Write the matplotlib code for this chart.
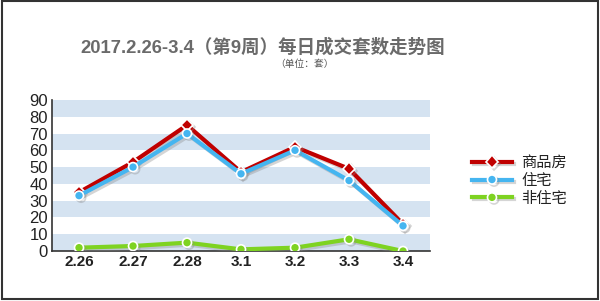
import matplotlib
matplotlib.use('Agg')
import matplotlib.pyplot as plt
import matplotlib.patheffects as pe
from matplotlib.patches import Rectangle

plt.rcParams['font.family'] = ['Liberation Sans', 'Noto Sans CJK SC', 'DejaVu Sans']

# data
days = ['2.26', '2.27', '2.28', '3.1', '3.2', '3.3', '3.4']
commercial = [35, 53, 75, 47, 62, 49, 16]   # 商品房
residential = [33, 50, 70, 46, 60, 42, 15]  # 住宅
non_residential = [2, 3, 5, 1, 2, 7, 0]     # 非住宅
y_ticks = [0, 10, 20, 30, 40, 50, 60, 70, 80, 90]

fig = plt.figure(figsize=(6.0, 3.01), dpi=100)
ax = fig.add_axes([0.0867, 0.166, 0.63, 0.502])

# alternating horizontal bands
for lo in y_ticks[:-1:2]:
    ax.axhspan(lo, lo + 10, color='#d5e3f1', zorder=0, lw=0)

x = list(range(len(days)))
shadow = [pe.SimpleLineShadow(offset=(1.5, -1.5), shadow_color='#888888', alpha=0.35), pe.Normal()]

series = [
    (commercial, '商品房', '#c00000', 'D', 6.5),
    (residential, '住宅', '#45b5f0', 'o', 6.5),
    (non_residential, '非住宅', '#7ed321', 'o', 6.5),
]
for vals, name, color, marker, ms in series:
    ax.plot(x, vals, color=color, lw=3, marker=marker, markersize=ms,
            markeredgecolor='white', markeredgewidth=1.2, label=name,
            path_effects=shadow, zorder=3)

ax.set_xlim(-0.5, 6.5)
ax.set_ylim(0, 90)
ax.set_yticks(y_ticks)
ax.set_yticklabels([str(v) for v in y_ticks], fontsize=12, color='#222222')
ax.set_xticks(x)
ax.set_xticklabels(days, fontsize=11, fontweight='bold', color='#222222')
ax.tick_params(axis='both', length=0, pad=3)
for s in ['top', 'right']:
    ax.spines[s].set_visible(False)
for s in ['left', 'bottom']:
    ax.spines[s].set_color('#333333')
    ax.spines[s].set_linewidth(1.2)

leg = ax.legend(loc='upper left', bbox_to_anchor=(1.075, 0.72), frameon=False,
                fontsize=11, handlelength=2.6, labelspacing=0.25, handletextpad=0.6)
for t in leg.get_texts():
    t.set_color('#222222')

fig.text(0.437, 0.842, '2017.2.26-3.4（第9周）每日成交套数走势图', ha='center', va='center',
         fontsize=13.3, fontweight='bold', color='#6a6a6a')
fig.text(0.508, 0.787, '（单位：套）', ha='center', va='center', fontsize=7, color='#555555')

# outer frame
fig.patches.append(Rectangle((0.003, 0.006), 0.994, 0.99, transform=fig.transFigure,
                             fill=False, edgecolor='#333333', lw=1.5))

fig.savefig('out.png', dpi=100)
